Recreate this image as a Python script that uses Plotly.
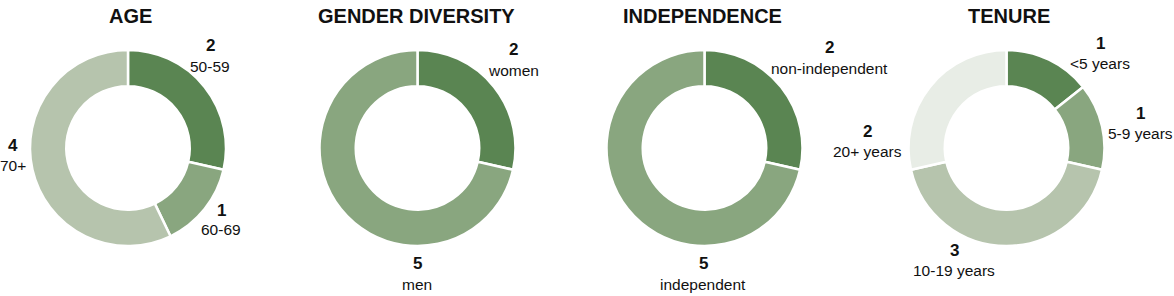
import plotly.graph_objects as go

W, H = 1174, 296

# ---- data ----
titles = ["AGE", "GENDER DIVERSITY", "INDEPENDENCE", "TENURE"]

age_labels = ["50-59", "60-69", "70+"]
age_values = [2, 1, 4]

gender_labels = ["women", "men"]
gender_values = [2, 5]

indep_labels = ["non-independent", "independent"]
indep_values = [2, 5]

tenure_labels = ["<5 years", "5-9 years", "10-19 years", "20+ years"]
tenure_values = [1, 1, 3, 2]

# ---- styles ----
DARK, MID, LIGHT, PALE = "#5a8552", "#89a67f", "#b6c4ad", "#e8ede6"
charts = [
    (age_labels, age_values, [DARK, MID, LIGHT]),
    (gender_labels, gender_values, [DARK, MID]),
    (indep_labels, indep_values, [DARK, MID]),
    (tenure_labels, tenure_values, [DARK, MID, LIGHT, PALE]),
]
centers_x = [128, 417.5, 704.5, 1006.5]   # px
center_y = 148
diam = 196
title_x = [130, 416, 702, 1009]
title_y = 16
# label anchor positions (px) for each slice: (x, y of number)
label_pos = [
    [(210, 46), (221, 210), (13, 145)],
    [(513, 49), (417, 263)],
    [(829, 47), (703, 263)],
    [(1100, 43), (1140, 114), (954, 250), (867, 131)],
]
line_gap = [20, 21, 21, 20]
FONT = "Liberation Sans, Arial, Helvetica, sans-serif"

fig = go.Figure()
annotations = []
for i, (labels, values, colors) in enumerate(charts):
    cx = centers_x[i]
    x0, x1 = (cx - diam / 2) / W, (cx + diam / 2) / W
    y0, y1 = 1 - (center_y + diam / 2) / H, 1 - (center_y - diam / 2) / H
    fig.add_trace(go.Pie(
        labels=labels, values=values, hole=0.63, sort=False,
        direction="clockwise", rotation=0,
        marker=dict(colors=colors, line=dict(color="white", width=2.5)),
        textinfo="none", hoverinfo="label+value", showlegend=False,
        domain=dict(x=[x0, x1], y=[y0, y1]),
    ))
    annotations.append(dict(
        text=f"<b>{titles[i]}</b>", x=title_x[i] / W, y=1 - title_y / H,
        xref="paper", yref="paper", xanchor="center", yanchor="middle",
        showarrow=False, font=dict(family=FONT, size=20, color="#111111")))
    for (px, py), lab, val in zip(label_pos[i], labels, values):
        annotations.append(dict(
            text=f"<b>{val}</b>", x=px / W, y=1 - py / H,
            xref="paper", yref="paper", xanchor="center", yanchor="middle",
            showarrow=False, font=dict(family=FONT, size=17, color="#111111")))
        annotations.append(dict(
            text=lab, x=px / W, y=1 - (py + line_gap[i]) / H,
            xref="paper", yref="paper", xanchor="center", yanchor="middle",
            showarrow=False, font=dict(family=FONT, size=15.5, color="#111111")))

fig.update_layout(
    width=W, height=H, margin=dict(l=0, r=0, t=0, b=0),
    paper_bgcolor="white", plot_bgcolor="white",
    annotations=annotations,
)
fig.write_html("out.html")
